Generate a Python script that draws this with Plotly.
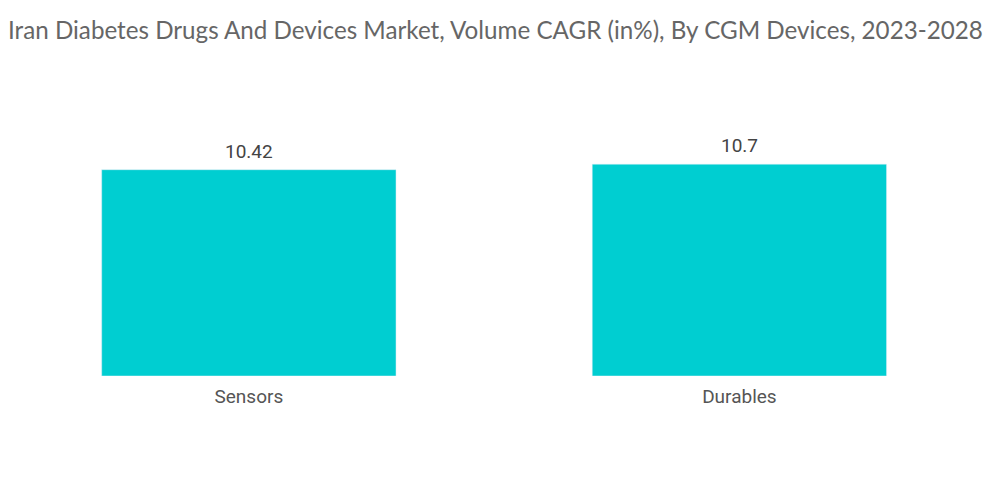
import plotly.graph_objects as go

categories = ["Sensors", "Durables"]
values = [10.42, 10.7]
value_labels = ["10.42", "10.7"]

fig = go.Figure(go.Bar(
    x=categories, y=values,
    marker=dict(color="#00CED1"),
    width=0.6, cliponaxis=False,
))

for cat, val, lab in zip(categories, values, value_labels):
    fig.add_annotation(x=cat, y=val, text=lab, showarrow=False,
                       yanchor="bottom", yshift=5,
                       font=dict(family="Roboto", size=19, color="#444444"))

fig.update_layout(
    width=1000, height=504,
    margin=dict(l=0, r=15, t=92, b=136),
    paper_bgcolor="white", plot_bgcolor="white",
    title=dict(
        text="Iran Diabetes Drugs And Devices Market, Volume CAGR (in%), By CGM Devices, 2023-2028",
        x=0, xanchor="left", xref="container",
        y=1 - 23/504, yanchor="middle", yref="container",
        pad=dict(l=0, r=0, t=0, b=0),
        font=dict(family="Lato", size=24.2, color="#666666"),
    ),
    showlegend=False,
)
fig.update_xaxes(showgrid=False, showline=False, zeroline=False,
                 range=[-0.491, 1.517],
                 ticks="outside", ticklen=3, tickcolor="rgba(0,0,0,0)",
                 tickfont=dict(family="Roboto", size=19, color="#555555"))
fig.update_yaxes(visible=False, range=[0, 13.94])

fig.write_html("out.html")
